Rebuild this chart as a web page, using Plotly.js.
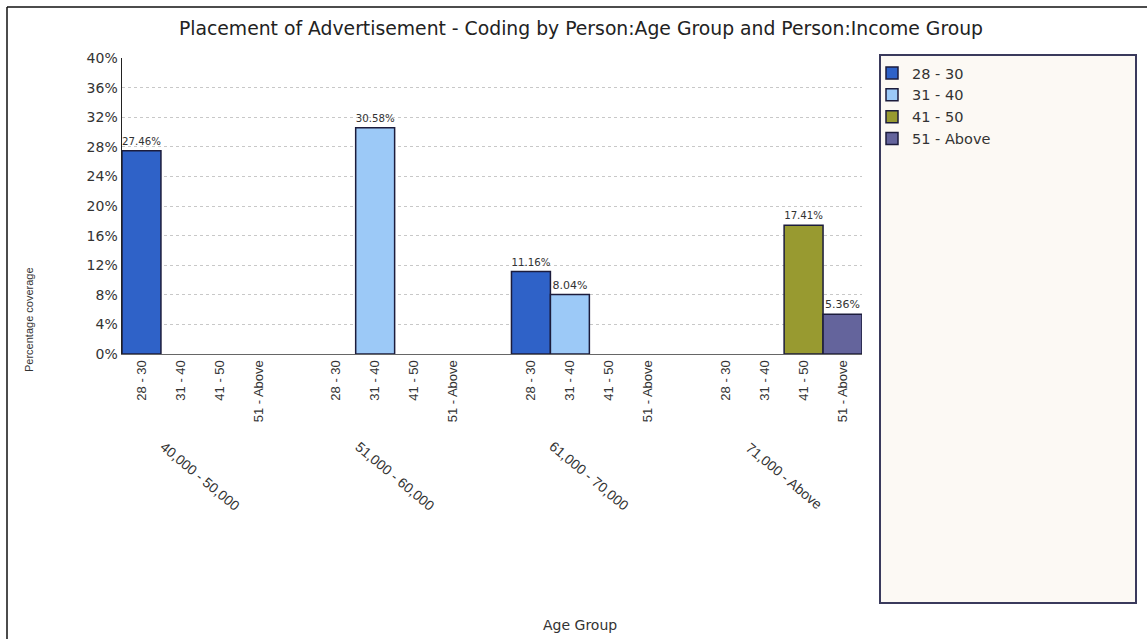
<!DOCTYPE html>
<html>
<head>
<meta charset="utf-8">
<script src="https://cdn.plot.ly/plotly-3.0.1.min.js"></script>
<style>html,body{margin:0;padding:0;background:#fff;}#chart{width:1147px;height:639px;}</style>
</head>
<body>
<div id="chart"></div>
<script>
const incomeGroups = ["40,000 - 50,000", "51,000 - 60,000", "61,000 - 70,000", "71,000 - Above"];
const ageGroups = ["28 - 30", "31 - 40", "41 - 50", "51 - Above"];
// values per age group, across income groups (percent)
const age28_30 = [27.46, 0, 11.16, 0];
const age31_40 = [0, 30.58, 8.04, 0];
const age41_50 = [0, 0, 0, 17.41];
const age51_Above = [0, 0, 0, 5.36];
const seriesValues = [age28_30, age31_40, age41_50, age51_Above];
const colors = ["#2f62c8", "#9cc9f7", "#989a30", "#64649c"];

const WIDE = "DejaVu Sans, Verdana, sans-serif";
const NARROW = "Liberation Sans, Arial, sans-serif";

const slotsPerGroup = ageGroups.length + 1;
const traces = ageGroups.map((age, a) => ({
  type: "bar",
  name: age,
  x: incomeGroups.map((g, gi) => gi * slotsPerGroup + a),
  y: seriesValues[a].map(v => v > 0 ? v : null),
  width: 1,
  text: seriesValues[a].map(v => v > 0 ? v.toFixed(2) + "%" : ""),
  textposition: "outside",
  cliponaxis: false,
  textfont: {size: 11, color: "#333", family: WIDE},
  marker: {color: colors[a], line: {color: "#1c1c3c", width: 1.5}},
  hoverinfo: "skip"
}));

const tickvals = [], ticktext = [];
incomeGroups.forEach((g, gi) => ageGroups.forEach((age, a) => {
  tickvals.push(gi * slotsPerGroup + a); ticktext.push(age);
}));

const L = 122, R = 862, T = 58, B = 354;
const px = x => (x - L) / (R - L);
const py = y => (B - y) / (B - T);

const annotations = incomeGroups.map((g, gi) => ({
  text: g, x: gi * slotsPerGroup + 1.5, xref: "x", y: py(476), yref: "paper",
  textangle: 40, showarrow: false, xanchor: "center", yanchor: "middle",
  font: {size: 14, color: "#333", family: NARROW}
}));
annotations.push({text: "Percentage coverage", x: px(29), y: py(320), xref: "paper", yref: "paper",
  xanchor: "center", yanchor: "middle",
  textangle: -90, showarrow: false, font: {size: 11, color: "#333", family: NARROW}});
annotations.push({text: "Age Group", x: px(580), y: py(625), xref: "paper", yref: "paper",
  xanchor: "center", yanchor: "middle",
  showarrow: false, font: {size: 14, color: "#333", family: WIDE}});

const layout = {
  width: 1147, height: 639,
  margin: {l: L, r: 1147 - R, t: T, b: 639 - B, pad: 0},
  paper_bgcolor: "#fff", plot_bgcolor: "#fff",
  font: {family: WIDE, size: 13, color: "#333"},
  title: {text: "Placement of Advertisement - Coding by Person:Age Group and Person:Income Group",
    x: 581 / 1147, xref: "container", xanchor: "center", y: 1 - 28 / 639, yref: "container", yanchor: "middle",
    font: {size: 18.8, color: "#222", family: WIDE}},
  barmode: "overlay",
  showlegend: true,
  legend: {x: px(872), y: py(57), xanchor: "left", yanchor: "top", bgcolor: "rgba(0,0,0,0)",
    font: {size: 14.5, color: "#333", family: WIDE}, tracegroupgap: 0, itemwidth: 30},
  xaxis: {range: [-0.5, 4 * slotsPerGroup - 1 - 0.5], tickmode: "array", tickvals: tickvals, ticktext: ticktext,
    tickangle: -90, showgrid: false, zeroline: false, showline: true, linecolor: "#666", linewidth: 1,
    ticks: "", tickfont: {size: 13, color: "#333", family: NARROW}, fixedrange: true},
  yaxis: {range: [0, 40], dtick: 4, tick0: 0, ticksuffix: "%", showgrid: true, gridcolor: "#c8c8c8",
    griddash: "dot", gridwidth: 1, zeroline: false, showline: true, linecolor: "#222", linewidth: 1.5,
    ticks: "", tickfont: {size: 14, color: "#333", family: WIDE}, fixedrange: true},
  annotations: annotations,
  shapes: [
    {type: "rect", xref: "paper", yref: "paper", x0: px(880), x1: px(1136), y0: py(603), y1: py(55),
      fillcolor: "#fcf9f4", line: {color: "#3a3a5c", width: 2}, layer: "below"},
    {type: "line", xref: "paper", yref: "paper", x0: px(7), x1: px(7), y0: py(7), y1: py(660),
      line: {color: "#111", width: 1.5}},
    {type: "line", xref: "paper", yref: "paper", x0: px(7), x1: px(1160), y0: py(7), y1: py(7),
      line: {color: "#111", width: 1.5}}
  ]
};

Plotly.newPlot("chart", traces, layout, {displayModeBar: false, staticPlot: true});
</script>
</body>
</html>
